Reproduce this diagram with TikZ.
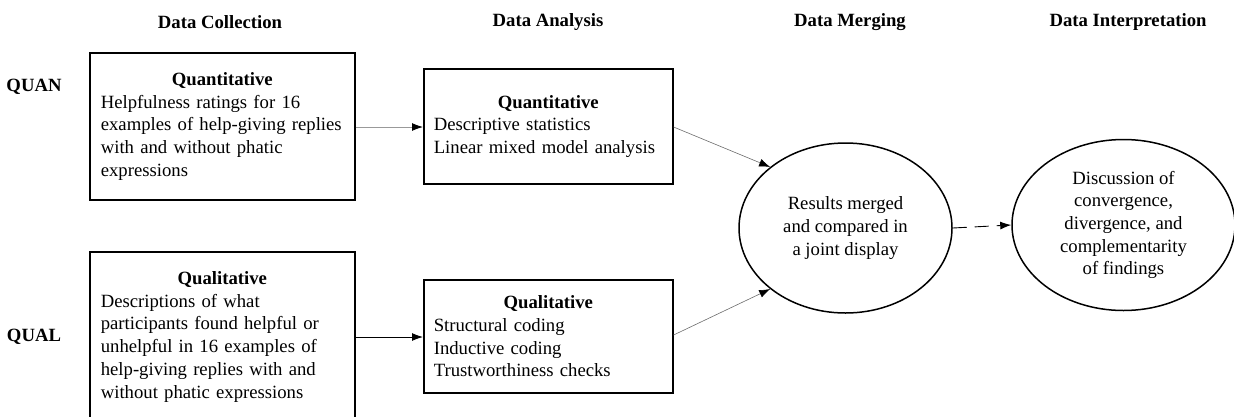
\documentclass[tikz,border=0pt]{standalone}
\usepackage{fontspec}
\setmainfont{Liberation Serif}
\usetikzlibrary{shapes.geometric,arrows.meta}
\begin{document}
\begin{tikzpicture}[x=1pt,y=-1pt,
  txt/.style={font=\fontsize{18.7}{22.7}\selectfont},
  hdr/.style={font=\fontsize{18.7}{22.7}\selectfont\bfseries},
  box/.style={txt,draw,line width=1.6pt,rectangle,anchor=north west,align=left,inner ysep=0pt},
  oval/.style={txt,draw,line width=1.5pt,ellipse,align=center,inner sep=0pt},
  arr/.style={-{Latex[length=11pt,width=8pt,color=black]},line width=0.9pt},
]
\useasboundingbox (0,0) rectangle (1234,416);
% headers
\node[hdr] (h1) at (220,22) {Data Collection};
\node[hdr] (h2) at (548,22) {Data Analysis};
\node[hdr] (h3) at (850,22) {Data Merging};
\node[hdr] (h4) at (1128,22) {Data Interpretation};
% row labels
\node[hdr] (quan) at (34,87) {QUAN};
\node[hdr] (qual) at (34,337) {QUAL};
% collection boxes
\node[box,inner xsep=11pt,text width=243pt,minimum height=147pt] (qc) at (89,52)
 {{\centering\bfseries Quantitative\par}Helpfulness ratings for 16\\examples of help-giving replies\\with and without phatic\\expressions};
\node[box,inner xsep=11pt,text width=243pt,minimum height=170pt] (lc) at (89,251)
 {{\centering\bfseries Qualitative\par}Descriptions of what\\participants found helpful or\\unhelpful in 16 examples of\\help-giving replies with and\\without phatic expressions};
% analysis boxes
\node[box,inner xsep=10pt,text width=229pt,minimum height=115pt] (qa) at (423,68)
 {{\centering\bfseries Quantitative\par}Descriptive statistics\\Linear mixed model analysis};
\node[box,inner xsep=10pt,text width=229pt,minimum height=113pt] (la) at (423,279)
 {{\centering\bfseries Qualitative\par}Structural coding\\Inductive coding\\Trustworthiness checks};
% ellipses
\node[oval,minimum width=213pt,minimum height=170pt] (merge) at (845.5,228)
 {Results merged\\and compared in\\a joint display};
\node[oval,minimum width=223pt,minimum height=171pt] (interp) at (1123.5,225)
 {Discussion of\\convergence,\\divergence, and\\complementarity\\of findings};
% connectors
\draw[arr,draw=gray!80] (qc.east |- 0,127) -- (qa.west |- 0,127);
\draw[arr] (lc.east |- 0,337) -- (la.west |- 0,337);
\draw[arr,line width=0.6pt,draw=gray!85!black] (qa.east |- 0,127) -- (merge.141);
\draw[arr,line width=0.6pt,draw=gray!85!black] (la.east |- 0,335) -- (merge.219);
\draw[arr,dash pattern=on 14pt off 8pt] (merge.east) -- (interp.west);
\end{tikzpicture}
\end{document}
